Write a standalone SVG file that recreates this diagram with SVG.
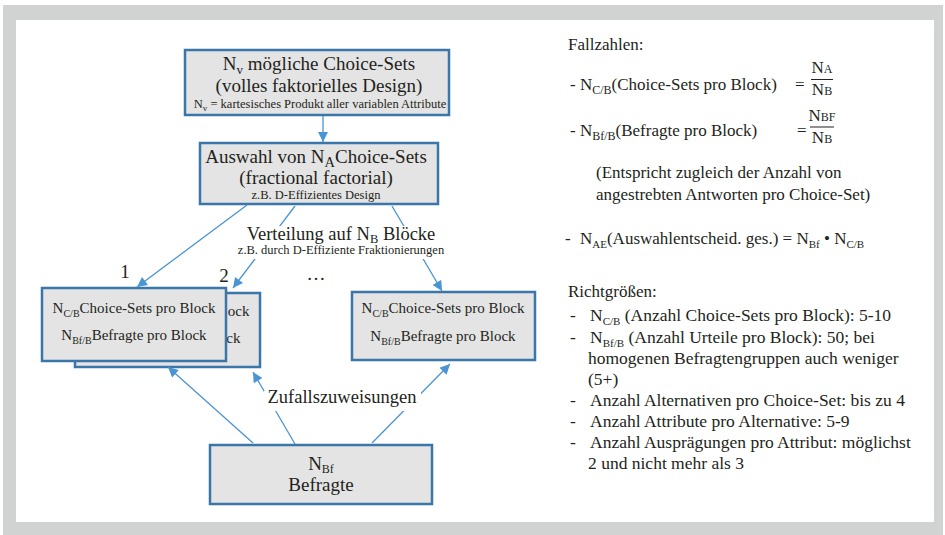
<svg xmlns="http://www.w3.org/2000/svg" width="945" height="535" viewBox="0 0 945 535" font-family="'Liberation Serif', 'DejaVu Serif', serif">
<defs>
<marker id="ah" viewBox="0 0 10 10" refX="10" refY="5" markerWidth="11" markerHeight="10" markerUnits="userSpaceOnUse" orient="auto"><path d="M0,0 L10,5 L0,10 z" fill="#4B94D3"/></marker>
</defs>
<style>
text{font-family:'Liberation Serif','DejaVu Serif',serif;fill:#231F20}
.box{fill:#E4E4E4;stroke:#3A76A9;stroke-width:2.5}
.c{stroke:#4B94D3;stroke-width:1.3;fill:none;marker-end:url(#ah)}
.big{font-size:19px}
.lab{font-size:18.5px}
.mid{font-size:15px}
.sm{font-size:12.5px}
.r{font-size:17px}
.l{font-size:17.5px}
.s{font-size:11px}
.m{text-anchor:middle}
.e{text-anchor:end}
.bg{fill:#FFFFFF}
</style>
<g id="frame">
<rect x="3" y="5" width="940" height="530" fill="#D1D3D2"/>
<rect x="16" y="20" width="918" height="502" fill="#FFFFFF"/>
</g>
<g id="node-vollfaktoriell">
<rect class="box" x="185" y="50" width="264" height="65"/>
<text class="big m" x="319" y="70">N<tspan font-size="13" dy="4">v</tspan><tspan dy="-4"> mögliche Choice-Sets</tspan></text>
<text class="big m" x="319" y="92">(volles faktorielles Design)</text>
<text class="sm m" x="320" y="108">N<tspan font-size="9" dy="2.5">v</tspan><tspan dy="-2.5"> = kartesisches Produkt aller variablen Attribute</tspan></text>
</g>
<g id="node-auswahl">
<rect class="box" x="200" y="143" width="238" height="61"/>
<text class="big m" x="316" y="163">Auswahl von N<tspan font-size="14.5" dy="4">A</tspan><tspan dy="-4">Choice-Sets</tspan></text>
<text class="big m" x="316" y="184">(fractional factorial)</text>
<text class="sm m" x="316" y="199">z.B. D-Effizientes Design</text>
</g>
<g id="node-block2">
<rect class="box" x="75" y="293" width="185" height="74"/>
<text class="mid e" x="249.5" y="316">ock</text>
<text class="mid e" x="240.5" y="343">ck</text>
</g>
<g id="node-block1">
<rect class="box" x="42" y="288" width="184" height="73"/>
<text class="mid m" x="134" y="313">N<tspan font-size="10" dy="4">C/B</tspan><tspan dy="-4">Choice-Sets pro Block</tspan></text>
<text class="mid m" x="134" y="340">N<tspan font-size="10" dy="4">Bf/B</tspan><tspan dy="-4">Befragte pro Block</tspan></text>
</g>
<g id="node-block3">
<rect class="box" x="352" y="292" width="183" height="68"/>
<text class="mid m" x="443" y="313">N<tspan font-size="10" dy="4">C/B</tspan><tspan dy="-4">Choice-Sets pro Block</tspan></text>
<text class="mid m" x="443" y="341">N<tspan font-size="10" dy="4">Bf/B</tspan><tspan dy="-4">Befragte pro Block</tspan></text>
</g>
<g id="node-befragte">
<rect class="box" x="210" y="445" width="222" height="59"/>
<text class="big m" x="321" y="470">N<tspan font-size="12" dy="3">Bf</tspan></text>
<text class="big m" x="321" y="491">Befragte</text>
</g>
<g id="connectors">
<line class="c" x1="323" y1="116" x2="323" y2="142"/>
<line class="c" x1="247" y1="205" x2="137" y2="287"/>
<line class="c" x1="295" y1="206" x2="233" y2="288"/>
<line class="c" x1="392" y1="206" x2="442" y2="291"/>
<line class="c" x1="253" y1="443" x2="168" y2="367"/>
<line class="c" x1="295" y1="444" x2="253" y2="372"/>
<line class="c" x1="372" y1="443" x2="450" y2="364"/>
<text class="big m" x="125" y="278">1</text>
<text class="big m" x="224" y="282">2</text>
<text class="big m" x="316" y="280">…</text>
<rect class="bg" x="236" y="226" width="210" height="33"/>
<text class="lab m" x="341" y="240">Verteilung auf N<tspan font-size="12.5" dy="3">B</tspan><tspan dy="-3"> Blöcke</tspan></text>
<text class="sm m" x="341" y="254">z.B. durch D-Effiziente Fraktionierungen</text>
<rect class="bg" x="264" y="391" width="157" height="20"/>
<text class="lab m" x="342" y="403">Zufallszuweisungen</text>
</g>
<g id="notes">
<text class="r" x="568" y="50">Fallzahlen:</text>
<text class="r" x="570" y="90">- N<tspan font-size="12" dy="4">C/B</tspan><tspan dy="-4">(Choice-Sets pro Block)</tspan></text>
<text class="r" x="795" y="90">=</text>
<text class="r m" x="822" y="73">N<tspan font-size="12">A</tspan></text>
<line x1="811" y1="79.5" x2="833" y2="79.5" stroke="#231F20" stroke-width="1"/>
<text class="r m" x="822" y="95">N<tspan font-size="12">B</tspan></text>
<text class="r" x="570" y="136">- N<tspan font-size="12" dy="4">Bf/B</tspan><tspan dy="-4">(Befragte pro Block)</tspan></text>
<text class="r" x="797" y="136">=</text>
<text class="r m" x="822" y="121">N<tspan font-size="12">BF</tspan></text>
<line x1="810" y1="127" x2="834" y2="127" stroke="#231F20" stroke-width="1"/>
<text class="r m" x="822" y="143">N<tspan font-size="12">B</tspan></text>
<text class="r" x="596" y="178">(Entspricht zugleich der Anzahl von</text>
<text class="r" x="596" y="200">angestrebten Antworten pro Choice-Set)</text>
<text class="r" x="565" y="244">-</text>
<text class="r" x="580" y="244">N<tspan class="s" dy="4">AE</tspan><tspan dy="-4">(Auswahlentscheid. ges.) = N</tspan><tspan class="s" dy="4">Bf</tspan><tspan dy="-4"> • N</tspan><tspan class="s" dy="4">C/B</tspan></text>
<text class="r" x="568" y="297">Richtgrößen:</text>
<text class="l" x="570" y="321">-</text>
<text class="l" x="590" y="321">N<tspan class="s" dy="4">C/B</tspan><tspan dy="-4"> (Anzahl Choice-Sets pro Block): 5-10</tspan></text>
<text class="l" x="570" y="343">-</text>
<text class="l" x="590" y="343">N<tspan class="s" dy="4">Bf/B</tspan><tspan dy="-4"> (Anzahl Urteile pro Block): 50; bei</tspan></text>
<text class="l" x="588" y="364">homogenen Befragtengruppen auch weniger</text>
<text class="l" x="588" y="385">(5+)</text>
<text class="l" x="570" y="406">-</text>
<text class="l" x="590" y="406">Anzahl Alternativen pro Choice-Set: bis zu 4</text>
<text class="l" x="570" y="427">-</text>
<text class="l" x="590" y="427">Anzahl Attribute pro Alternative: 5-9</text>
<text class="l" x="570" y="448">-</text>
<text class="l" x="590" y="448">Anzahl Ausprägungen pro Attribut: möglichst</text>
<text class="l" x="588" y="469">2 und nicht mehr als 3</text>
</g>
</svg>
